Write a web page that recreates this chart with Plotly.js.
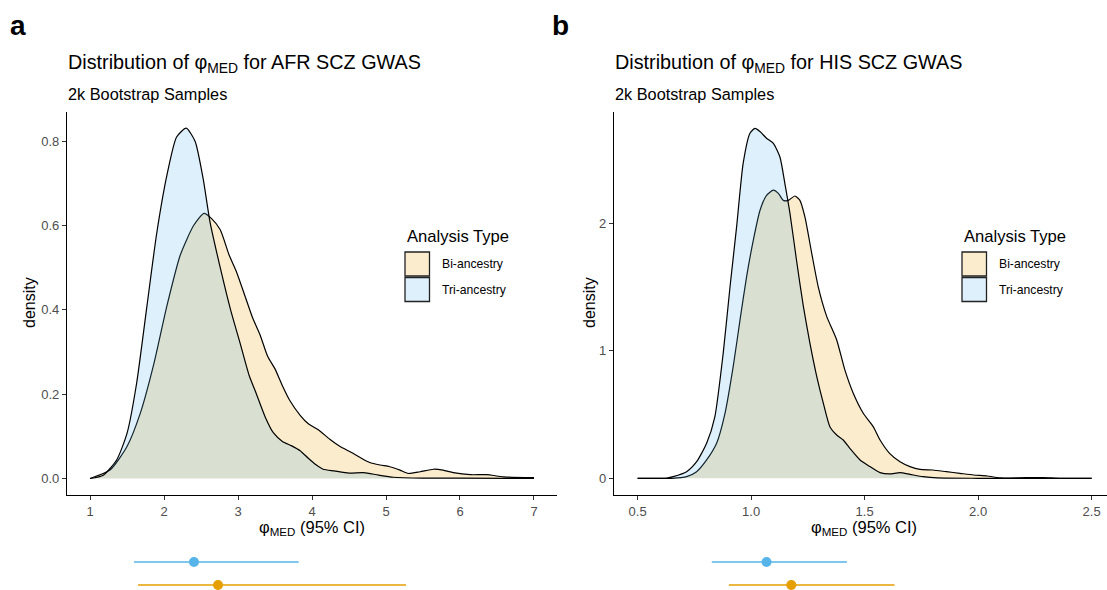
<!DOCTYPE html>
<html>
<head>
<meta charset="utf-8">
<script src="https://cdn.plot.ly/plotly-3.0.1.min.js"></script>
<style>html,body{margin:0;padding:0;background:#fff;}#chart{width:1107px;height:590px;}</style>
</head>
<body>
<div id="chart"></div>
<script>
// ---------- DATA ----------
const groups = ['Bi-ancestry', 'Tri-ancestry'];

// Panel a: AFR SCZ GWAS density curves
const afrBiX = [1.0, 1.27, 1.5, 1.68, 1.86, 2.04, 2.22, 2.4, 2.54, 2.64, 2.76, 2.88, 2.98, 3.1, 3.2, 3.3, 3.4, 3.5, 3.6, 3.7, 3.84, 3.95, 4.09, 4.24, 4.38, 4.51, 4.65, 4.78, 4.92, 5.05, 5.19, 5.3, 5.46, 5.64, 5.77, 5.91, 6.14, 6.36, 6.59, 7.0];
const afrBiY = [0.0, 0.02, 0.076, 0.155, 0.27, 0.41, 0.53, 0.60, 0.629, 0.617, 0.59, 0.53, 0.49, 0.43, 0.38, 0.34, 0.29, 0.26, 0.22, 0.185, 0.15, 0.13, 0.115, 0.093, 0.076, 0.064, 0.05, 0.038, 0.032, 0.028, 0.02, 0.012, 0.016, 0.022, 0.02, 0.014, 0.009, 0.009, 0.004, 0.002];
const afrTriX = [1.0, 1.18, 1.36, 1.5, 1.63, 1.77, 1.9, 2.04, 2.17, 2.3, 2.42, 2.53, 2.62, 2.76, 2.9, 3.03, 3.15, 3.25, 3.37, 3.48, 3.6, 3.72, 3.84, 3.95, 4.05, 4.15, 4.3, 4.5, 4.7, 4.9, 5.1, 5.5, 6.0, 7.0];
const afrTriY = [0.0, 0.008, 0.044, 0.107, 0.226, 0.41, 0.58, 0.72, 0.81, 0.831, 0.80, 0.71, 0.61, 0.50, 0.40, 0.32, 0.245, 0.20, 0.145, 0.108, 0.088, 0.078, 0.066, 0.048, 0.033, 0.022, 0.018, 0.013, 0.014, 0.008, 0.003, 0.001, 0.001, 0.0];

// Panel b: HIS SCZ GWAS density curves
const hisBiX = [0.5, 0.65, 0.716, 0.76, 0.804, 0.848, 0.885, 0.921, 0.951, 0.98, 1.01, 1.039, 1.068, 1.098, 1.12, 1.142, 1.164, 1.193, 1.215, 1.237, 1.267, 1.296, 1.333, 1.377, 1.413, 1.45, 1.494, 1.538, 1.568, 1.61, 1.656, 1.7, 1.744, 1.8, 1.86, 1.92, 1.98, 2.04, 2.096, 2.21, 2.287, 2.36, 2.5];
const hisBiY = [0.0, 0.0, 0.013, 0.052, 0.144, 0.275, 0.51, 0.876, 1.24, 1.58, 1.87, 2.10, 2.22, 2.26, 2.235, 2.18, 2.18, 2.214, 2.18, 2.05, 1.765, 1.50, 1.27, 1.085, 0.85, 0.667, 0.51, 0.405, 0.30, 0.196, 0.13, 0.092, 0.07, 0.065, 0.052, 0.039, 0.026, 0.018, 0.003, 0.005, 0.005, 0.0, 0.0];
const hisTriX = [0.5, 0.6, 0.63, 0.657, 0.716, 0.76, 0.804, 0.84, 0.877, 0.907, 0.936, 0.965, 0.995, 1.017, 1.039, 1.068, 1.098, 1.127, 1.149, 1.171, 1.2, 1.23, 1.259, 1.289, 1.318, 1.347, 1.377, 1.406, 1.435, 1.48, 1.523, 1.568, 1.61, 1.656, 1.7, 1.758, 1.82, 2.0, 2.5];
const hisTriY = [0.0, 0.0, 0.002, 0.013, 0.052, 0.13, 0.275, 0.48, 0.98, 1.50, 1.97, 2.47, 2.706, 2.745, 2.72, 2.667, 2.627, 2.52, 2.31, 2.08, 1.71, 1.35, 1.06, 0.80, 0.59, 0.405, 0.34, 0.30, 0.235, 0.144, 0.092, 0.044, 0.034, 0.044, 0.031, 0.013, 0.003, 0.0, 0.0];

// Median and 95% CI (order follows groups)
const afrMedian = [2.73, 2.405];
const afrLower  = [1.65, 1.595];
const afrUpper  = [5.27, 3.82];
const hisMedian = [1.177, 1.068];
const hisLower  = [0.902, 0.827];
const hisUpper  = [1.632, 1.422];

// Tick labels
const afrXTicks = [1, 2, 3, 4, 5, 6, 7];
const afrYTicks = [0, 0.2, 0.4, 0.6, 0.8];
const hisXTicks = [0.5, 1.0, 1.5, 2.0, 2.5];
const hisYTicks = [0, 1, 2];

// ---------- STYLE ----------
const W = 1107, H = 590;
const FONT = 'Liberation Sans, Arial, Helvetica, sans-serif';
const fillCol = {'Bi-ancestry': 'rgba(230,159,0,0.2)', 'Tri-ancestry': 'rgba(86,180,233,0.2)'};
const legCol = {'Bi-ancestry': '#FAECCC', 'Tri-ancestry': '#DDF0FB'};
const dotCol = {'Bi-ancestry': '#E69F00', 'Tri-ancestry': '#56B4E9'};

function px(x) { return x / W; }
function py(y) { return 1 - y / H; }

function dens(x, y, name, xa, ya) {
  return {
    type: 'scatter', mode: 'lines', x: x, y: y, name: name,
    xaxis: xa, yaxis: ya, fill: 'tozeroy', fillcolor: fillCol[name],
    line: {color: '#000', width: 1.2, shape: 'spline', smoothing: 0.6},
    showlegend: false, hoverinfo: 'skip'
  };
}
function ci(med, lo, hi, i, xa, ya) {
  const g = groups[i];
  return {
    type: 'scatter', mode: 'markers', x: [med[i]], y: [g], xaxis: xa, yaxis: ya,
    marker: {color: dotCol[g], size: 10},
    error_x: {type: 'data', symmetric: false, array: [hi[i] - med[i]], arrayminus: [med[i] - lo[i]],
              width: 0, thickness: 1.3, color: dotCol[g]},
    cliponaxis: false, showlegend: false, hoverinfo: 'skip'
  };
}

const data = [
  dens(afrBiX, afrBiY, 'Bi-ancestry', 'x', 'y'),
  dens(afrTriX, afrTriY, 'Tri-ancestry', 'x', 'y'),
  dens(hisBiX, hisBiY, 'Bi-ancestry', 'x2', 'y2'),
  dens(hisTriX, hisTriY, 'Tri-ancestry', 'x2', 'y2'),
  ci(afrMedian, afrLower, afrUpper, 1, 'x3', 'y3'),
  ci(afrMedian, afrLower, afrUpper, 0, 'x3', 'y3'),
  ci(hisMedian, hisLower, hisUpper, 1, 'x4', 'y4'),
  ci(hisMedian, hisLower, hisUpper, 0, 'x4', 'y4')
];

const axBase = {
  showline: true, linecolor: '#000', linewidth: 1.1, ticks: 'outside', ticklen: 4,
  tickcolor: '#333', tickwidth: 1, showgrid: false, zeroline: false, fixedrange: true,
  tickfont: {family: FONT, size: 13, color: '#4d4d4d'}
};
const hidden = {visible: false, showgrid: false, zeroline: false, fixedrange: true};

const aDom = [px(67), px(557)], bDom = [px(614), 1];
const yDom = [py(495), py(112)];

const layout = {
  width: W, height: H, margin: {l: 0, r: 0, t: 0, b: 0},
  paper_bgcolor: '#fff', plot_bgcolor: 'rgba(0,0,0,0)',
  font: {family: FONT, color: '#000'},
  xaxis: Object.assign({}, axBase, {domain: aDom, range: [0.689, 7.311], tickvals: afrXTicks, anchor: 'y'}),
  yaxis: Object.assign({}, axBase, {domain: yDom, range: [-0.0391, 0.8693], tickvals: afrYTicks, tickformat: '.1f', anchor: 'x'}),
  xaxis2: Object.assign({}, axBase, {domain: bDom, range: [0.396, 0.396 + 493 / 227], tickvals: hisXTicks, tickformat: '.1f', anchor: 'y2'}),
  yaxis2: Object.assign({}, axBase, {domain: yDom, range: [-0.131, 2.873], tickvals: hisYTicks, anchor: 'x2'}),
  xaxis3: Object.assign({}, hidden, {domain: aDom, range: [0.689, 7.311], anchor: 'y3'}),
  yaxis3: Object.assign({}, hidden, {domain: [0, 0.1], type: 'category', categoryarray: groups, range: [-0.217, 2.348], anchor: 'x3'}),
  xaxis4: Object.assign({}, hidden, {domain: bDom, range: [0.396, 0.396 + 493 / 227], anchor: 'y4'}),
  yaxis4: Object.assign({}, hidden, {domain: [0, 0.1], type: 'category', categoryarray: groups, range: [-0.217, 2.348], anchor: 'x4'}),
  shapes: [],
  annotations: []
};

function ann(text, x, y, size, opts) {
  layout.annotations.push(Object.assign({
    text: text, x: px(x), y: py(y), xref: 'paper', yref: 'paper',
    xanchor: 'left', yanchor: 'middle', showarrow: false,
    font: {family: FONT, size: size, color: '#000'}
  }, opts || {}));
}

const panels = [
  {label: 'a', lx: 8, left: 66, mid: 312, ytx: 29, title: 'AFR', legX: 405},
  {label: 'b', lx: 550, left: 613, mid: 864, ytx: 589, title: 'HIS', legX: 962}
];
panels.forEach(p => {
  ann('<b>' + p.label + '</b>', p.lx, 25, 28);
  ann('Distribution of φ<sub>MED</sub> for ' + p.title + ' SCZ GWAS', p.left, 64, 19.8);
  ann('2k Bootstrap Samples', p.left, 94, 16.3);
  ann('φ<sub>MED</sub> (95% CI)', p.mid, 528, 16.5, {xanchor: 'center'});
  ann('density', p.ytx, 303, 16, {xanchor: 'center', textangle: -90});
  ann('Analysis Type', p.legX, 236, 16.6);
  groups.forEach((g, i) => {
    const y0 = 252 + i * 25.5;
    layout.shapes.push({type: 'rect', xref: 'paper', yref: 'paper',
      x0: px(p.legX), x1: px(p.legX + 24.5), y0: py(y0), y1: py(y0 + 24),
      fillcolor: legCol[g], line: {color: '#222', width: 1.3}});
    ann(g, p.legX + 35, y0 + 12, 12.2);
  });
});

Plotly.newPlot('chart', data, layout, {staticPlot: true, displayModeBar: false});
</script>
</body>
</html>
